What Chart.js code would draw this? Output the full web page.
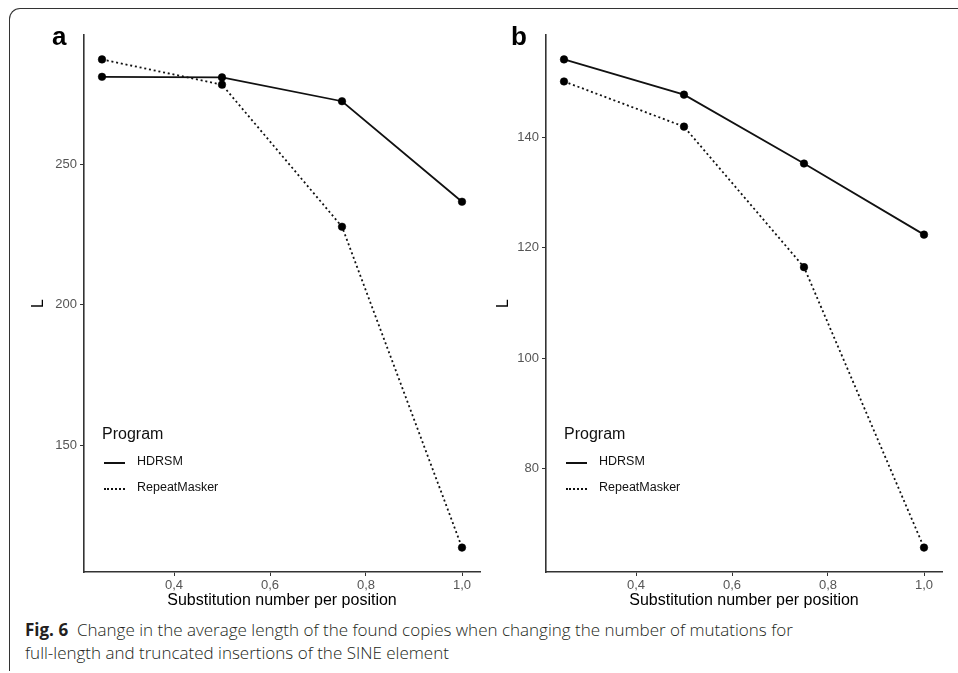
<!DOCTYPE html>
<html>
<head>
<meta charset="utf-8">
<script src="https://cdn.jsdelivr.net/npm/chart.js@4.4.1/dist/chart.umd.min.js"></script>
<style>
  html, body { margin: 0; padding: 0; background: #fff; }
  body { width: 958px; height: 673px; position: relative; overflow: hidden; font-family: "Liberation Sans", Arial, sans-serif; }
  .frame { position: absolute; left: 9px; top: 8px; width: 1000px; height: 662px; border-left: 1.5px solid #333; border-top: 1.5px solid #333; border-top-left-radius: 11px; }
  canvas { position: absolute; top: 0; }
  .panel-letter { position: absolute; font-weight: bold; font-size: 26px; color: #000; line-height: 1; }
  .legend { position: absolute; color: #111; }
  .legend .title { font-size: 16px; position: absolute; left: 0; top: 0; white-space: nowrap; }
  .legend .item { position: absolute; left: 0; font-size: 12.5px; white-space: nowrap; }
  .legend .swatch { position: absolute; left: 2px; width: 21px; height: 0; }
  .legend .label { position: absolute; left: 35px; top: -8px; }
  .caption { position: absolute; left: 25px; top: 618px; font-family: "Open Sans", sans-serif; font-weight: 300; font-size: 17px; line-height: 23px; color: #231f20; white-space: nowrap; }
  .caption b { font-weight: 700; }
</style>
</head>
<body>
<div class="frame"></div>
<canvas id="chartA" width="490" height="610" style="left:0px"></canvas>
<canvas id="chartB" width="487" height="610" style="left:465px"></canvas>

<div class="panel-letter" style="left:52px; top:23px">a</div>
<div class="panel-letter" style="left:511px; top:23px">b</div>

<div class="legend" style="left:102px; top:425px">
  <div class="title">Program</div>
  <div class="item" style="top:37px"><div class="swatch" style="border-top:2px solid #111"></div><span class="label">HDRSM</span></div>
  <div class="item" style="top:63px"><div class="swatch" style="border-top:2px dotted #111"></div><span class="label">RepeatMasker</span></div>
</div>
<div class="legend" style="left:564px; top:425px">
  <div class="title">Program</div>
  <div class="item" style="top:37px"><div class="swatch" style="border-top:2px solid #111"></div><span class="label">HDRSM</span></div>
  <div class="item" style="top:63px"><div class="swatch" style="border-top:2px dotted #111"></div><span class="label">RepeatMasker</span></div>
</div>

<div class="caption"><b>Fig. 6</b>&nbsp; Change in the average length of the found copies when changing the number of mutations for<br>full-length and truncated insertions of the SINE element</div>

<script>
// substitution number per position
const substitution = [0.25, 0.5, 0.75, 1.0];
const xTicks = [0.4, 0.6, 0.8, 1.0];

// panel a
const hdrsmA = [281.2, 281.0, 272.5, 236.7];
const repeatMaskerA = [287.4, 278.4, 227.8, 113.5];
const yTicksA = [150, 200, 250];

// panel b
const hdrsmB = [154.2, 147.8, 135.3, 122.4];
const repeatMaskerB = [150.2, 142.0, 116.5, 65.6];
const yTicksB = [80, 100, 120, 140];

function toPoints(values) {
    return values.map((v, i) => ({ x: substitution[i], y: v }));
}

// ggplot style 5% expansion
function expand(values) {
    const lo = Math.min(...values), hi = Math.max(...values);
    const pad = (hi - lo) * 0.05;
    return [lo - pad, hi + pad];
}

function makeChart(id, hdrsm, repeatMasker, yTicks, yWidth) {
    const [xMin, xMax] = expand(substitution);
    const [yMin, yMax] = expand(hdrsm.concat(repeatMasker));
    const ctx = document.getElementById(id).getContext('2d');

    const lineStyle = {
        borderColor: '#111',
        borderWidth: 1.8,
        tension: 0,
        pointRadius: 3.8,
        pointBackgroundColor: '#000',
        pointBorderColor: '#000',
        pointBorderWidth: 0.5,
        fill: false
    };

    return new Chart(ctx, {
        type: 'line',
        data: {
            datasets: [
                { label: 'HDRSM', data: toPoints(hdrsm), ...lineStyle },
                { label: 'RepeatMasker', data: toPoints(repeatMasker), ...lineStyle, borderDash: [2, 2.8] }
            ]
        },
        options: {
            responsive: false,
            animation: false,
            devicePixelRatio: 1,
            layout: { padding: { left: 29, top: 35, right: 10, bottom: 0 } },
            plugins: {
                legend: { display: false },
                tooltip: { enabled: false }
            },
            scales: {
                x: {
                    type: 'linear',
                    min: xMin,
                    max: xMax,
                    afterBuildTicks: s => { s.ticks = xTicks.map(v => ({ value: v })); },
                    afterFit: s => { s.height = 38; },
                    border: { display: true, color: '#333', width: 1.6 },
                    grid: { drawOnChartArea: false, drawTicks: true, tickLength: 4, color: '#333', tickWidth: 1 },
                    ticks: {
                        color: '#555',
                        font: { family: 'Liberation Sans', size: 13 },
                        padding: 2,
                        maxRotation: 0,
                        autoSkip: false,
                        callback: v => v.toFixed(1).replace('.', ',')
                    },
                    title: {
                        display: true,
                        text: 'Substitution number per position',
                        color: '#000',
                        font: { family: 'Liberation Sans', size: 16 },
                        padding: 0
                    }
                },
                y: {
                    type: 'linear',
                    min: yMin,
                    max: yMax,
                    afterBuildTicks: s => { s.ticks = yTicks.map(v => ({ value: v })); },
                    afterFit: s => { s.width = yWidth; },
                    border: { display: true, color: '#333', width: 1.6 },
                    grid: { drawOnChartArea: false, drawTicks: true, tickLength: 4, color: '#333', tickWidth: 1 },
                    ticks: {
                        color: '#555',
                        font: { family: 'Liberation Sans', size: 13 },
                        padding: 3,
                        autoSkip: false
                    },
                    title: {
                        display: true,
                        text: 'L',
                        color: '#000',
                        font: { family: 'Liberation Sans', size: 16 },
                        padding: 0
                    }
                }
            }
        }
    });
}

makeChart('chartA', hdrsmA, repeatMaskerA, yTicksA, 55);
makeChart('chartB', hdrsmB, repeatMaskerB, yTicksB, 52);
</script>
</body>
</html>
